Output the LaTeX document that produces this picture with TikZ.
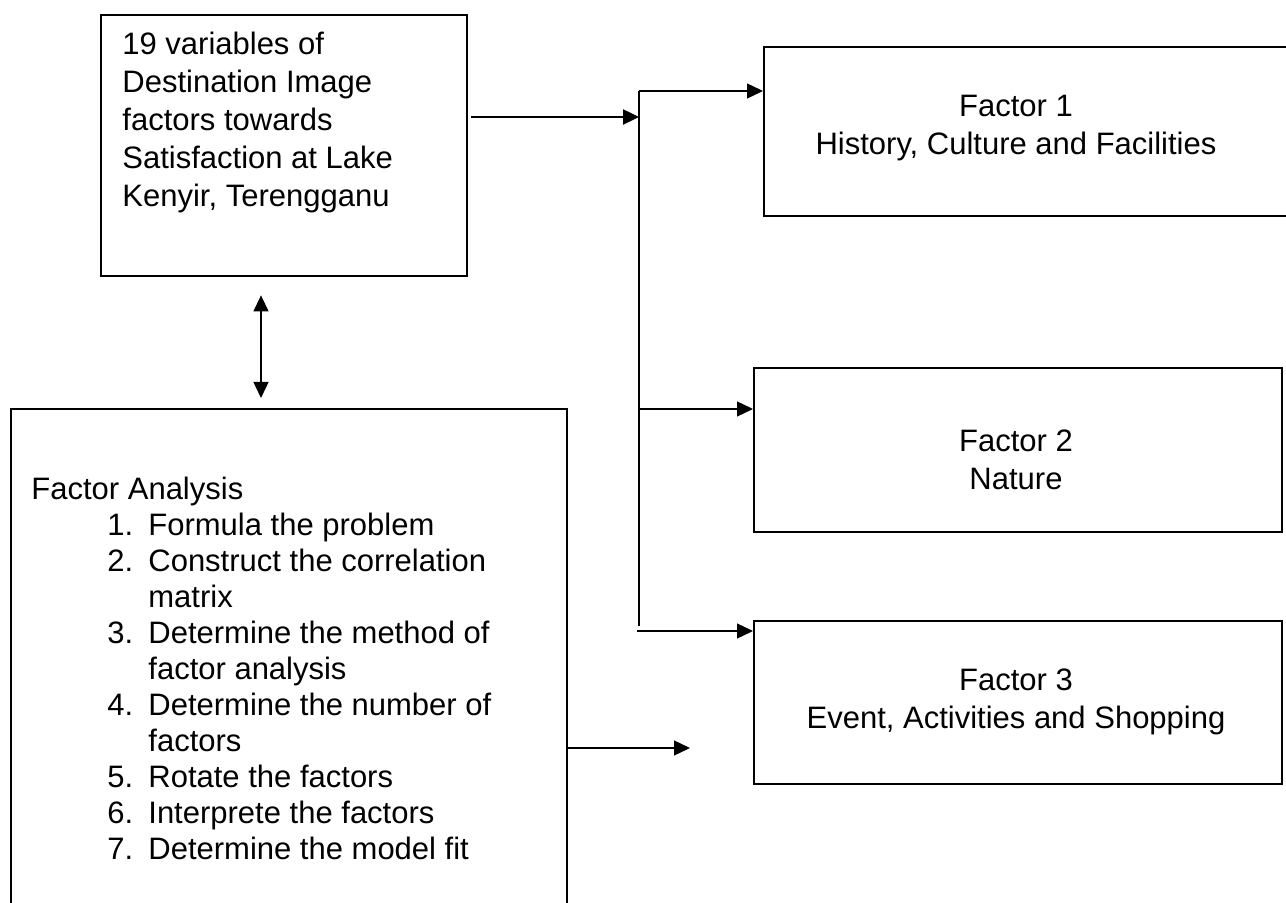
\documentclass[tikz,border=0pt]{standalone}
\usepackage{fontspec}
\setmainfont{Liberation Sans}
\usetikzlibrary{arrows.meta}

\begin{document}
\begin{tikzpicture}[x=0.5pt, y=-0.5pt,
    box/.style={draw, line width=1.2pt, rectangle, inner sep=0pt, anchor=north west},
    txt/.style={inner sep=0pt, font=\fontsize{15.5}{19}\selectfont},
    link/.style={line width=0.65pt},
    >={Triangle[length=8pt,width=7.5pt]}]
    \useasboundingbox (0,0) rectangle (1286,903);
    % boxes
    \node[box, minimum width=183pt, minimum height=130.5pt] (vars) at (100,14) {};
    \node[txt, anchor=north west, align=left] (varstext) at (122,32)
        {19 variables of\\Destination Image\\factors towards\\Satisfaction at Lake\\Kenyir, Terengganu};
    \node[box, minimum width=278pt, minimum height=250pt] (fa) at (10,408) {};
    \node[txt, anchor=north west, font=\fontsize{15.5}{18}\selectfont] (fatext) at (31,474) {%
        \begin{tabular}{@{}p{38pt}@{}p{20.5pt}@{}l@{}}
        \multicolumn{3}{@{}l@{}}{Factor Analysis}\\
        & 1. & Formula the problem\\
        & 2. & Construct the correlation\\
        &    & matrix\\
        & 3. & Determine the method of\\
        &    & factor analysis\\
        & 4. & Determine the number of\\
        &    & factors\\
        & 5. & Rotate the factors\\
        & 6. & Interprete the factors\\
        & 7. & Determine the model fit
        \end{tabular}};
    \node[box, minimum width=264pt, minimum height=84.5pt] (f1) at (763,46) {};
    \node[txt, align=center] (f1text) at (1016,128) {Factor 1\\History, Culture and Facilities};
    \node[box, minimum width=264pt, minimum height=82pt] (f2) at (753,367) {};
    \node[txt, align=center] (f2text) at (1016,460) {Factor 2\\Nature};
    \node[box, minimum width=264pt, minimum height=81.5pt] (f3) at (753,620) {};
    \node[txt, align=center] (f3text) at (1016,702) {Factor 3\\Event, Activities and Shopping};
    % connectors
    \coordinate (split) at (639,117);
    \coordinate (b1) at (639,91);
    \coordinate (b2) at (639,409);
    \coordinate (b3) at (639,626);
    \coordinate (b3s) at (637,631);
    \coordinate (updown) at (261,0);
    \coordinate (faout) at (690,748);
    \draw[->, line width=1.2pt, shorten <=1.5pt] (vars.east |- split) -- (split);
    \draw[link] (b1) -- (b3);
    \draw[link, ->] (b1) -- (b1 -| f1.west);
    \draw[link, ->] (b2) -- (b2 -| f2.west);
    \draw[link, ->] (b3s) -- (b3s -| f3.west);
    \draw[link, <->, shorten <=9pt, shorten >=5pt] (vars.south -| updown) -- (fa.north -| updown);
    \draw[link, ->] (fa.east |- faout) -- (faout);
\end{tikzpicture}
\end{document}
